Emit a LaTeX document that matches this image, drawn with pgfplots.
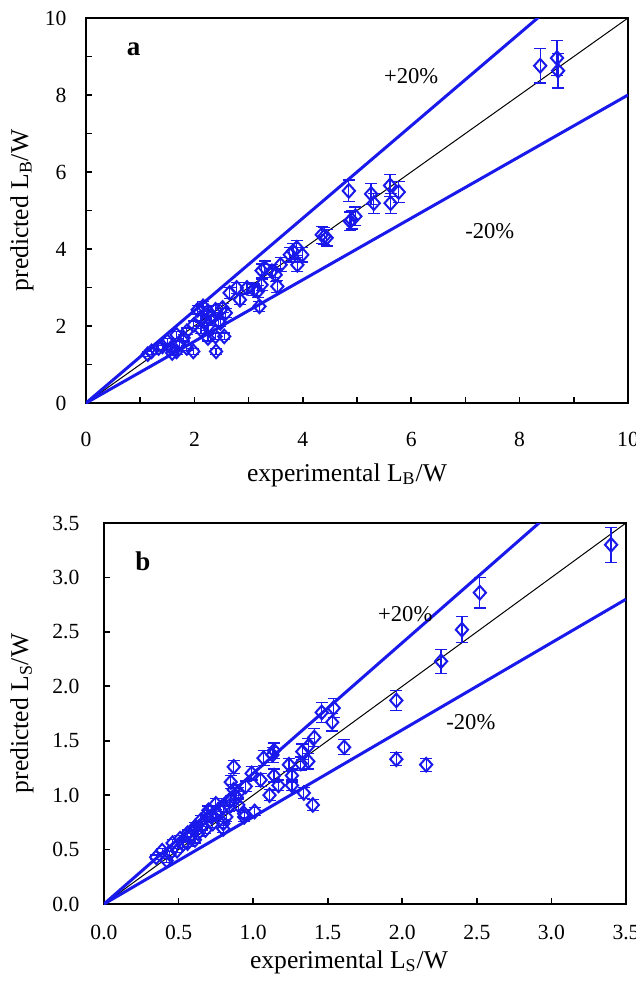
\documentclass[border=0pt]{standalone}
\usepackage{pgfplots}
\pgfplotsset{compat=1.18}
\usepackage{pgfplotstable}
\usepackage{fontspec}
\setmainfont{Liberation Serif}
\definecolor{mblue}{RGB}{25,25,235}

\pgfplotstableread{
x y e
8.38 8.76 0.45
8.69 8.96 0.45
8.71 8.63 0.45
4.85 5.51 0.28
5.26 5.43 0.27
5.31 5.19 0.26
5.61 5.65 0.28
5.62 5.19 0.26
5.77 5.48 0.27
4.90 4.76 0.24
4.97 4.85 0.24
4.87 4.72 0.24
4.40 4.33 0.22
4.35 4.37 0.22
4.44 4.29 0.21
3.82 3.94 0.20
3.76 3.85 0.19
3.89 4.03 0.20
3.99 3.85 0.19
3.90 3.59 0.18
3.53 3.03 0.15
3.43 3.42 0.17
3.30 3.51 0.18
3.24 3.44 0.17
3.50 3.33 0.17
3.59 3.59 0.18
3.20 2.51 0.13
2.65 2.86 0.14
2.84 2.68 0.13
2.78 2.99 0.15
2.97 2.99 0.15
3.10 2.94 0.15
3.24 3.07 0.15
3.17 2.90 0.15
2.06 2.42 0.12
2.16 2.51 0.13
2.25 2.38 0.12
2.39 2.42 0.12
2.52 2.47 0.12
2.58 2.34 0.12
2.12 2.21 0.11
2.22 2.12 0.11
2.32 2.25 0.11
2.45 2.12 0.11
1.99 2.03 0.10
2.12 1.90 0.10
2.25 1.99 0.10
2.48 2.08 0.10
2.39 1.73 0.09
2.55 1.73 0.09
2.25 1.69 0.08
1.98 1.34 0.07
2.40 1.34 0.07
1.86 1.86 0.09
1.80 1.69 0.08
1.73 1.52 0.08
1.67 1.77 0.09
1.57 1.43 0.07
1.59 1.30 0.07
1.50 1.60 0.08
1.41 1.47 0.07
1.67 1.34 0.07
1.86 1.43 0.07
1.14 1.27 0.06
1.21 1.34 0.07
1.34 1.43 0.07
}\dataA

\pgfplotstableread{
x y e
3.40 3.30 0.16
2.52 2.86 0.14
2.40 2.52 0.12
2.26 2.23 0.11
1.96 1.87 0.09
1.96 1.33 0.06
2.16 1.28 0.06
1.61 1.44 0.07
1.54 1.80 0.09
1.46 1.76 0.09
1.53 1.67 0.08
1.41 1.53 0.08
1.37 1.45 0.07
1.33 1.40 0.07
1.37 1.31 0.07
1.32 1.29 0.06
1.40 0.91 0.05
1.34 1.02 0.05
1.26 1.09 0.05
1.26 1.18 0.06
1.24 1.28 0.06
1.13 1.37 0.07
1.07 1.34 0.07
1.14 1.41 0.07
0.87 1.26 0.06
0.85 1.12 0.06
0.99 1.20 0.06
1.05 1.14 0.06
1.14 1.18 0.06
1.17 1.09 0.05
1.11 1.00 0.05
1.01 0.85 0.04
0.94 0.80 0.04
0.87 1.05 0.05
0.35 0.43 0.02
0.39 0.49 0.02
0.46 0.56 0.03
0.51 0.60 0.03
0.56 0.65 0.03
0.61 0.71 0.04
0.65 0.77 0.04
0.70 0.86 0.04
0.75 0.83 0.04
0.80 0.89 0.04
0.75 0.92 0.05
0.85 0.95 0.05
0.89 0.98 0.05
0.63 0.65 0.03
0.68 0.68 0.03
0.73 0.74 0.04
0.80 0.74 0.04
0.80 0.69 0.03
0.56 0.56 0.03
0.49 0.49 0.02
0.44 0.46 0.02
0.42 0.40 0.02
0.61 0.59 0.03
0.94 0.83 0.04
0.90 0.91 0.05
0.82 0.80 0.04
0.69 0.82 0.04
0.60 0.68 0.03
0.53 0.55 0.03
0.58 0.62 0.03
0.66 0.72 0.04
0.72 0.80 0.04
0.78 0.86 0.04
0.84 0.90 0.05
0.90 1.02 0.05
0.95 1.08 0.05
}\dataB

\pgfplotsset{
  myaxis/.style={
    scale only axis,
    axis line style={line width=1.3bp},
    tick pos=left,
    tick align=inside,
    major tick length=3bp,
    minor tick length=3bp,
    every tick/.style={black, line width=0.8bp},
    font=\fontsize{10.8bp}{13bp}\selectfont,
    label style={font=\fontsize{12.8bp}{15bp}\selectfont},
    /pgf/number format/assume math mode=true,
    clip=true,
  },
  datastyle/.style={
    only marks, mark=diamond, mark size=3.4bp,
    mark options={mblue, line width=1bp, fill=none, xscale=1.2},
    mblue,
    error bars/.cd, y dir=both, y explicit,
    error bar style={mblue, line width=0.6bp},
    error mark options={rotate=90, mblue, mark size=3bp, line width=0.6bp},
  },
}

\begin{document}
\fontsize{10.8bp}{13bp}\selectfont
\begin{tikzpicture}[font=\fontsize{10.8bp}{13bp}\selectfont]
\useasboundingbox (0,0) rectangle (318bp,-492bp);

% ---------- panel a ----------
\begin{axis}[myaxis,
  at={(43bp,-201.5bp)}, anchor=south west,
  width=271bp, height=192.5bp,
  xmin=0, xmax=10, ymin=0, ymax=10,
  xtick={0,2,...,10}, minor xtick={1,3,...,9},
  ytick={0,2,...,10}, minor ytick={1,3,...,9},
  xticklabel style={yshift=-11bp},
  yticklabel style={xshift=-6bp},
  xlabel={experimental L\textsubscript{B}/W},
  ylabel={predicted L\textsubscript{B}/W},
  xlabel style={at={(axis description cs:0.5,0)}, anchor=center, yshift=-36bp, xshift=-5bp},
  ylabel style={at={(axis description cs:0,0.5)}, anchor=center, yshift=32bp},
]
\addplot[black, line width=0.5bp] coordinates {(0,0) (10,10)};
\addplot[mblue, line width=1.5bp] coordinates {(0,0) (10,12)};
\addplot[mblue, line width=1.5bp] coordinates {(0,0) (10,8)};
\addplot[datastyle] table[x=x, y=y, y error=e] {\dataA};
\node[font=\fontsize{13.5bp}{14bp}\selectfont\bfseries] at (axis cs:0.88,9.18) {a};
\node[font=\fontsize{11.3bp}{13bp}\selectfont] at (axis cs:6.0,8.48) {+20\%};
\node[font=\fontsize{11.3bp}{13bp}\selectfont] at (axis cs:7.45,4.46) {-20\%};
\end{axis}

% ---------- panel b ----------
\begin{axis}[myaxis,
  at={(52bp,-452bp)}, anchor=south west,
  width=261bp, height=190.5bp,
  xmin=0, xmax=3.5, ymin=0, ymax=3.5,
  xtick={0,0.5,...,3.5},
  ytick={0,0.5,...,3.5},
  xticklabel style={yshift=-7bp, /pgf/number format/.cd, fixed, fixed zerofill, precision=1},
  yticklabel style={xshift=-8.5bp, /pgf/number format/.cd, fixed, fixed zerofill, precision=1},
  xlabel={experimental L\textsubscript{S}/W},
  ylabel={predicted L\textsubscript{S}/W},
  xlabel style={at={(axis description cs:0.5,0)}, anchor=center, yshift=-29bp, xshift=-8bp},
  ylabel style={at={(axis description cs:0,0.5)}, anchor=center, yshift=41bp},
]
\addplot[black, line width=0.5bp] coordinates {(0,0) (3.5,3.5)};
\addplot[mblue, line width=1.5bp] coordinates {(0,0) (3.5,4.2)};
\addplot[mblue, line width=1.5bp] coordinates {(0,0) (3.5,2.8)};
\addplot[datastyle] table[x=x, y=y, y error=e] {\dataB};
\node[font=\fontsize{13.5bp}{14bp}\selectfont\bfseries] at (axis cs:0.26,3.15) {b};
\node[font=\fontsize{11.3bp}{13bp}\selectfont] at (axis cs:2.02,2.66) {+20\%};
\node[font=\fontsize{11.3bp}{13bp}\selectfont] at (axis cs:2.46,1.67) {-20\%};
\end{axis}
\end{tikzpicture}
\end{document}
